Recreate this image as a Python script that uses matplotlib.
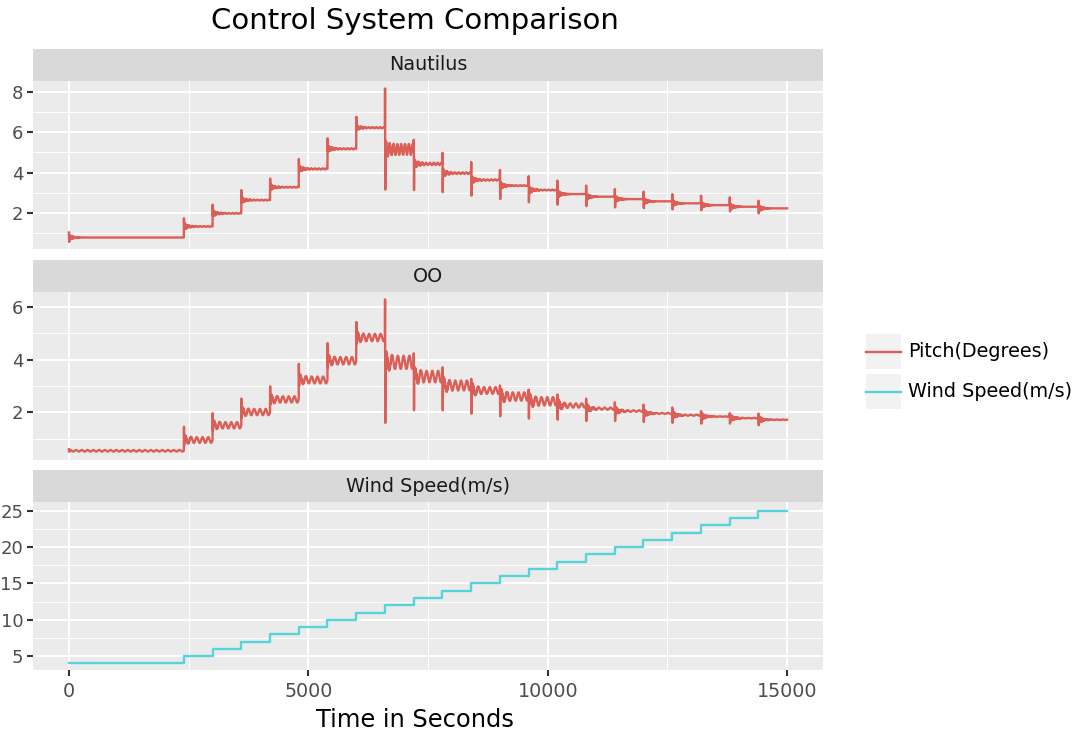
import numpy as np
import matplotlib
matplotlib.use("Agg")
import matplotlib.pyplot as plt
from matplotlib.ticker import AutoMinorLocator, FixedLocator
from matplotlib.patches import Rectangle
from matplotlib.lines import Line2D

# step changes of the wind, seconds
step_time = [0, 2400, 3000, 3600, 4200, 4800, 5400, 6000, 6600, 7200, 7800,
             8400, 9000, 9600, 10200, 10800, 11400, 12000, 12600, 13200, 13800, 14400]
end_time = 15000
wind_speed = [4, 5, 6, 7, 8, 9, 10, 11, 12, 13, 14, 15, 16, 17, 18, 19, 20, 21, 22, 23, 24, 25]

# Nautilus pitch: settled level, spike top, spike bottom, slow ripple, fast ringing (degrees)
naut_level = [0.77, 1.32, 1.97, 2.63, 3.27, 4.18, 5.18, 6.23, 5.15, 4.43, 3.97,
              3.63, 3.35, 3.13, 2.93, 2.80, 2.68, 2.57, 2.47, 2.38, 2.30, 2.22]
naut_peak = [1.02, 1.73, 2.40, 3.13, 3.70, 4.67, 5.70, 6.77, 8.18, 5.63, 4.98,
             4.52, 4.13, 3.82, 3.60, 3.35, 3.18, 3.05, 2.93, 2.85, 2.77, 2.60]
naut_dip = [0.55, 1.20, 1.85, 2.50, 3.15, 4.05, 5.05, 6.10, 3.15, 3.13, 3.02,
            2.85, 2.68, 2.52, 2.40, 2.33, 2.27, 2.23, 2.17, 2.13, 2.07, 1.97]
naut_ripple = [0, 0.02, 0.02, 0.02, 0.02, 0.03, 0.03, 0.03, 0.27, 0.06, 0.04,
               0.03, 0.02, 0.02, 0, 0, 0, 0, 0, 0, 0, 0]
naut_ring = [0.14, 0.17, 0.17, 0.17, 0.17, 0.17, 0.17, 0.12, 0.22, 0.22, 0.22,
             0.20, 0.20, 0.20, 0.20, 0.18, 0.18, 0.17, 0.17, 0.17, 0.17, 0.17]

# OO pitch
oo_level = [0.54, 0.95, 1.51, 2.01, 2.49, 3.23, 3.96, 4.84, 3.90, 3.36, 3.02,
            2.83, 2.60, 2.42, 2.26, 2.14, 2.05, 1.96, 1.89, 1.84, 1.78, 1.72]
oo_peak = [0.60, 1.45, 1.97, 2.52, 2.99, 3.84, 4.63, 5.43, 6.29, 4.24, 3.71,
           3.27, 3.02, 2.86, 2.68, 2.52, 2.38, 2.29, 2.18, 2.05, 1.97, 1.95]
oo_dip = [0.50, 0.75, 1.30, 1.80, 2.30, 3.00, 3.70, 4.60, 1.60, 2.08, 2.08,
          1.95, 1.85, 1.76, 1.72, 1.67, 1.67, 1.63, 1.60, 1.57, 1.57, 1.51]
oo_ripple = [0.03, 0.11, 0.12, 0.12, 0.12, 0.13, 0.14, 0.14, 0.25, 0.22, 0.19,
             0.13, 0.16, 0.16, 0.08, 0.04, 0.03, 0.02, 0.02, 0.01, 0.01, 0.01]
oo_ring = [0, 0.10, 0.10, 0.10, 0.10, 0.12, 0.12, 0.12, 0.25, 0.20, 0.20,
           0.20, 0.20, 0.20, 0.20, 0.18, 0.17, 0.16, 0.16, 0.16, 0.16, 0.16]

facet_names = ["Nautilus", "OO", "Wind Speed(m/s)"]
legend_labels = ["Pitch(Degrees)", "Wind Speed(m/s)"]

RED = "#db5f57"
CYAN = "#57d3db"
W, H = 1080, 737
FS = 13.8


def build_trace(level, peak, dip, ripple, ring, ripple_period):
  """joins the read levels/spikes of each step into one time trace"""
  ts, ys = [], []
  for i, t0 in enumerate(step_time):
    t1 = step_time[i + 1] if i + 1 < len(step_time) else end_time
    if i > 0:
      ts += [t0, t0 + 3, t0 + 8]
      ys += [level[i - 1], peak[i], dip[i]]
    else:
      ts += [t0, t0 + 5]
      ys += [peak[i], dip[i]]
    tt = np.arange(t0 + 12, t1, 1.0)
    rel = tt - t0
    yy = (level[i] + ring[i] * np.exp(-rel / 70.0) * np.cos(2 * np.pi * rel / 14.0)
          + ripple[i] * np.sin(2 * np.pi * rel / ripple_period))
    ts += list(tt)
    ys += list(yy)
  ts.append(end_time)
  ys.append(level[-1])
  return np.array(ts), np.array(ys)


def fig_rect(x0, y0, x1, y1):
  return [x0 / W, 1 - y1 / H, (x1 - x0) / W, (y1 - y0) / H]


plt.rcParams['font.family'] = ['DejaVu Sans']
fig = plt.figure(figsize=(W / 100, H / 100), dpi=100)

panel_x0, panel_x1 = 33, 823
strip_tops = [49, 260, 470]
strip_h = 32
panel_h = 168

t_naut, y_naut = build_trace(naut_level, naut_peak, naut_dip, naut_ripple, naut_ring, 80.0)
t_oo, y_oo = build_trace(oo_level, oo_peak, oo_dip, oo_ripple, oo_ring, 120.0)
wind_t = step_time + [end_time]
wind_v = wind_speed + [wind_speed[-1]]

series = [(t_naut, y_naut, RED, (0.2, 8.55), [2, 4, 6, 8]),
          (t_oo, y_oo, RED, (0.19, 6.57), [2, 4, 6]),
          (wind_t, wind_v, CYAN, (3.08, 26.23), [5, 10, 15, 20, 25])]

for k, (tx, vy, col, ylim, yt) in enumerate(series):
  top = strip_tops[k]
  sax = fig.add_axes(fig_rect(panel_x0, top, panel_x1, top + strip_h))
  sax.set_facecolor("#D9D9D9")
  sax.set_xticks([])
  sax.set_yticks([])
  for s in sax.spines.values():
    s.set_visible(False)
  sax.text(0.5, 0.5, facet_names[k], ha="center", va="center", fontsize=FS,
           color="#1A1A1A", transform=sax.transAxes)

  ax = fig.add_axes(fig_rect(panel_x0, top + strip_h, panel_x1, top + strip_h + panel_h))
  ax.set_facecolor("#EBEBEB")
  for s in ax.spines.values():
    s.set_visible(False)
  if k < 2:
    ax.plot(tx, vy, color=col, lw=1.7)
  else:
    ax.step(tx, vy, where="post", color=col, lw=1.7)
  ax.set_xlim(-750, 15750)
  ax.set_ylim(*ylim)
  ax.xaxis.set_major_locator(FixedLocator([0, 5000, 10000, 15000]))
  ax.xaxis.set_minor_locator(FixedLocator([2500, 7500, 12500]))
  ax.yaxis.set_major_locator(FixedLocator(yt))
  ax.yaxis.set_minor_locator(AutoMinorLocator(2))
  ax.grid(which="major", color="white", lw=1.4)
  ax.grid(which="minor", color="white", lw=0.7)
  ax.set_axisbelow(True)
  ax.tick_params(which="minor", length=0)
  ax.tick_params(axis="y", which="major", length=4.5, width=1.5, color="#333333",
                 labelcolor="#4D4D4D", labelsize=13, pad=2.5)
  if k < 2:
    ax.tick_params(axis="x", which="major", length=0, labelbottom=False)
  else:
    ax.tick_params(axis="x", which="major", length=4.5, width=1.5, color="#333333",
                   labelcolor="#4D4D4D", labelsize=FS, pad=4)

fig.text(415 / W, 1 - 21 / H, "Control System Comparison", ha="center", va="center",
         fontsize=21, color="black")
fig.text(415 / W, 1 - 720 / H, "Time in Seconds", ha="center", va="center",
         fontsize=17.4, color="black")

# legend
key_cols = [RED, CYAN]
key_tops = [334, 374]
for lab, col, kt in zip(legend_labels, key_cols, key_tops):
  fig.add_artist(Rectangle((866 / W, 1 - (kt + 35) / H), 35 / W, 35 / H,
                           transform=fig.transFigure, facecolor="#F2F2F2", edgecolor="none"))
  yc = 1 - (kt + 17.5) / H
  fig.add_artist(Line2D([866 / W, 901 / W], [yc, yc], transform=fig.transFigure,
                        color=col, lw=1.7))
  fig.text(908 / W, yc, lab, ha="left", va="center", fontsize=FS, color="black")

fig.savefig("out.png", dpi=100)
